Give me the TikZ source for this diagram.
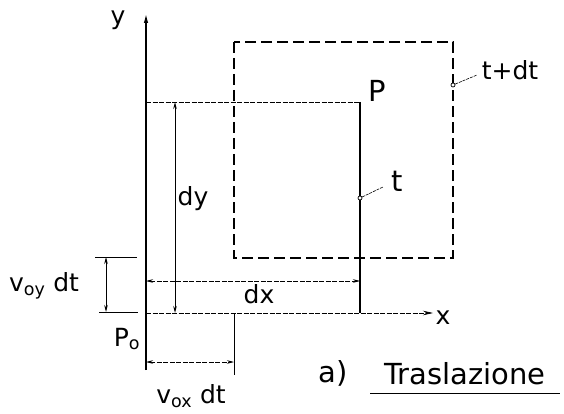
\documentclass[tikz,border=0pt]{standalone}
\usepackage{fontspec}
\setmainfont{DejaVu Sans}
\usetikzlibrary{arrows.meta}

\begin{document}
\begin{tikzpicture}[x=1pt, y=-1pt,
  lbl/.style={inner sep=0pt, font=\fontsize{25}{27}\selectfont},
  biglbl/.style={inner sep=0pt, font=\fontsize{29}{31}\selectfont},
  axisline/.style={line width=1.6pt},
  sideline/.style={line width=1.2pt},
  dimtip/.style={{Stealth[length=7pt,width=3.5pt]}-{Stealth[length=7pt,width=3.5pt]}},
  thindash/.style={line width=0.7pt, dash pattern=on 5pt off 1.5pt},
  longdash/.style={line width=1.2pt, dash pattern=on 11pt off 5pt},
  leader/.style={line width=0.6pt, dash pattern=on 3pt off 1pt},
  dot/.style={circle, draw, line width=0.7pt, fill=white, inner sep=0pt, minimum size=4pt}
]
  \useasboundingbox (0,0) rectangle (564,414);

  \coordinate (Po)   at (146,313);
  \coordinate (ytop) at (146,13);
  \coordinate (ybot) at (146,370);
  \coordinate (xend) at (433,313);
  \coordinate (TL)   at (146,102);
  \coordinate (Pc)   at (360,102);
  \coordinate (BR)   at (360,313);
  \coordinate (Q1)   at (234,42);
  \coordinate (Q3)   at (453,258);

  % assi
  \draw[axisline, -{Latex[length=10pt,width=4.5pt]}] (ybot) -- (ytop);
  \draw[thindash, -{Stealth[length=10pt,width=4.5pt]}] (Po) -- (xend);

  % posizione al tempo t
  \draw[thindash] (TL) -- (Pc);
  \draw[sideline] (Pc) -- (BR);

  % posizione al tempo t+dt
  \draw[longdash] (Q1) rectangle (Q3);

  % dy e dx
  \coordinate (dyA) at (175,102);
  \coordinate (dyB) at (175,313);
  \draw[line width=1pt, dimtip] (dyA) -- (dyB);
  \coordinate (dxA) at (146,281);
  \coordinate (dxB) at (360,281);
  \draw[thindash, dimtip] (dxA) -- (dxB);

  % v_oy dt
  \coordinate (e1a) at (95,257);  \coordinate (e1b) at (137,257);
  \coordinate (e2a) at (99,312);  \coordinate (e2b) at (138,312);
  \coordinate (vyA) at (106,257); \coordinate (vyB) at (106,312);
  \draw[line width=0.7pt] (e1a) -- (e1b);
  \draw[line width=0.7pt] (e2a) -- (e2b);
  \draw[line width=0.8pt, dimtip] (vyA) -- (vyB);

  % v_ox dt
  \coordinate (tkA) at (234,313); \coordinate (tkB) at (234,375);
  \coordinate (vxA) at (146,362); \coordinate (vxB) at (234,362);
  \draw[line width=1pt] (tkA) -- (tkB);
  \draw[thindash, dimtip] (vxA) -- (vxB);

  % punti e richiami
  \node[dot] (tpt)  at (360,198) {};
  \node[dot] (tdpt) at (453,85)  {};
  \coordinate (tlead)  at (383,187);
  \coordinate (tdlead) at (477,75);
  \draw[leader] (tpt) -- (tlead);
  \draw[leader] (tdpt) -- (tdlead);

  % scritte
  \node[lbl] (ylab)  at (118,20)  {y};
  \node[lbl] (xlab)  at (443,318) {x};
  \node[biglbl] (Plab) at (377,91) {P};
  \node[biglbl] (tlab) at (397,181) {t};
  \node[lbl] (tdlab) at (510,70)  {t+dt};
  \node[lbl] (dylab) at (193,199) {dy};
  \node[lbl] (dxlab) at (259,294) {dx};
  \node[lbl] (Polab) at (127,339) {P\textsubscript{o}};
  \node[lbl] (vylab) at (44,286)  {v\textsubscript{oy} dt};
  \node[lbl] (vxlab) at (191,396) {v\textsubscript{ox} dt};
  \node[biglbl] (alab) at (333,373) {a)};
  \node[biglbl] (title) at (465,374) {Traslazione};
  \coordinate (ul1) at (370,393);
  \coordinate (ul2) at (560,393);
  \draw[line width=1pt] (ul1) -- (ul2);
\end{tikzpicture}
\end{document}
